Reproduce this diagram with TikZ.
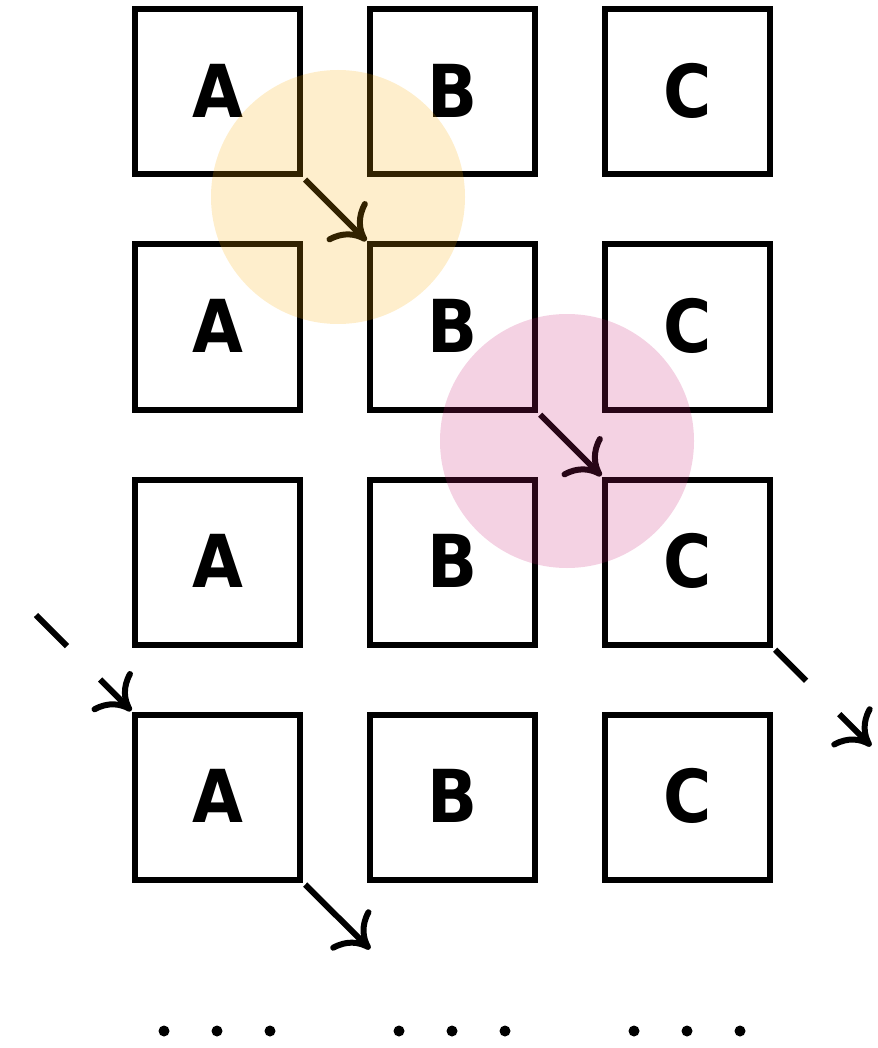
\documentclass[tikz,border=0pt]{standalone}
\usepackage{fontspec}
\setmainfont{DejaVu Sans}
\newfontfamily\cellfont{DejaVu Sans Condensed}
\usetikzlibrary{arrows.meta}
\definecolor{amberfill}{RGB}{250,170,0}
\definecolor{magentafill}{RGB}{200,30,115}
\tikzset{
  cell/.style={draw, line width=6pt, minimum width=165pt, minimum height=165pt,
    inner sep=0pt, font=\cellfont\fontsize{73}{73}\selectfont\bfseries},
  jump/.style={line width=6pt,
    -{Computer Modern Rightarrow[length=30pt,width=56pt,line width=6pt]}},
  gapped/.style={jump, dash pattern=on 44pt off 47pt},
  spot/.style={fill opacity=0.2, draw=none},
  dot/.style={circle, fill, inner sep=0pt, minimum size=11pt}
}
\begin{document}
\begin{tikzpicture}[x=1pt,y=-1pt]
\useasboundingbox (0,0) rectangle (877,1048);
% grid of cells: columns A, B, C; four rows
\foreach \r/\y in {1/92,2/327,3/562,4/797}{
  \node[cell] (A\r) at (217.5,\y) {\raisebox{3pt}{A}};
  \node[cell] (B\r) at (452.5,\y) {\raisebox{3pt}{B}};
  \node[cell] (C\r) at (687.5,\y) {\raisebox{3pt}{C}};
}
% diagonal steps
\draw[jump, shorten <=3pt, shorten >=1pt] (A1.south east) -- (B2.north west);
\draw[jump, shorten <=3pt, shorten >=1pt] (B2.south east) -- (C3.north west);
\coordinate (inL) at (36,615);
\draw[gapped, shorten >=1pt] (inL) -- (A4.north west);
\coordinate (outR) at (871,746);
\draw[gapped, shorten <=3pt] (C3.south east) -- (outR);
\coordinate (outB) at (370,949);
\draw[jump, shorten <=3pt] (A4.south east) -- (outB);
% highlights
\fill[spot, amberfill] (338,197) circle (127);
\fill[spot, magentafill] (567,441) circle (127);
% continuation dots
\foreach \x in {164,217,270,399,452,505,634,687,740}
  \node[dot] (d\x) at (\x,1031) {};
\end{tikzpicture}
\end{document}
